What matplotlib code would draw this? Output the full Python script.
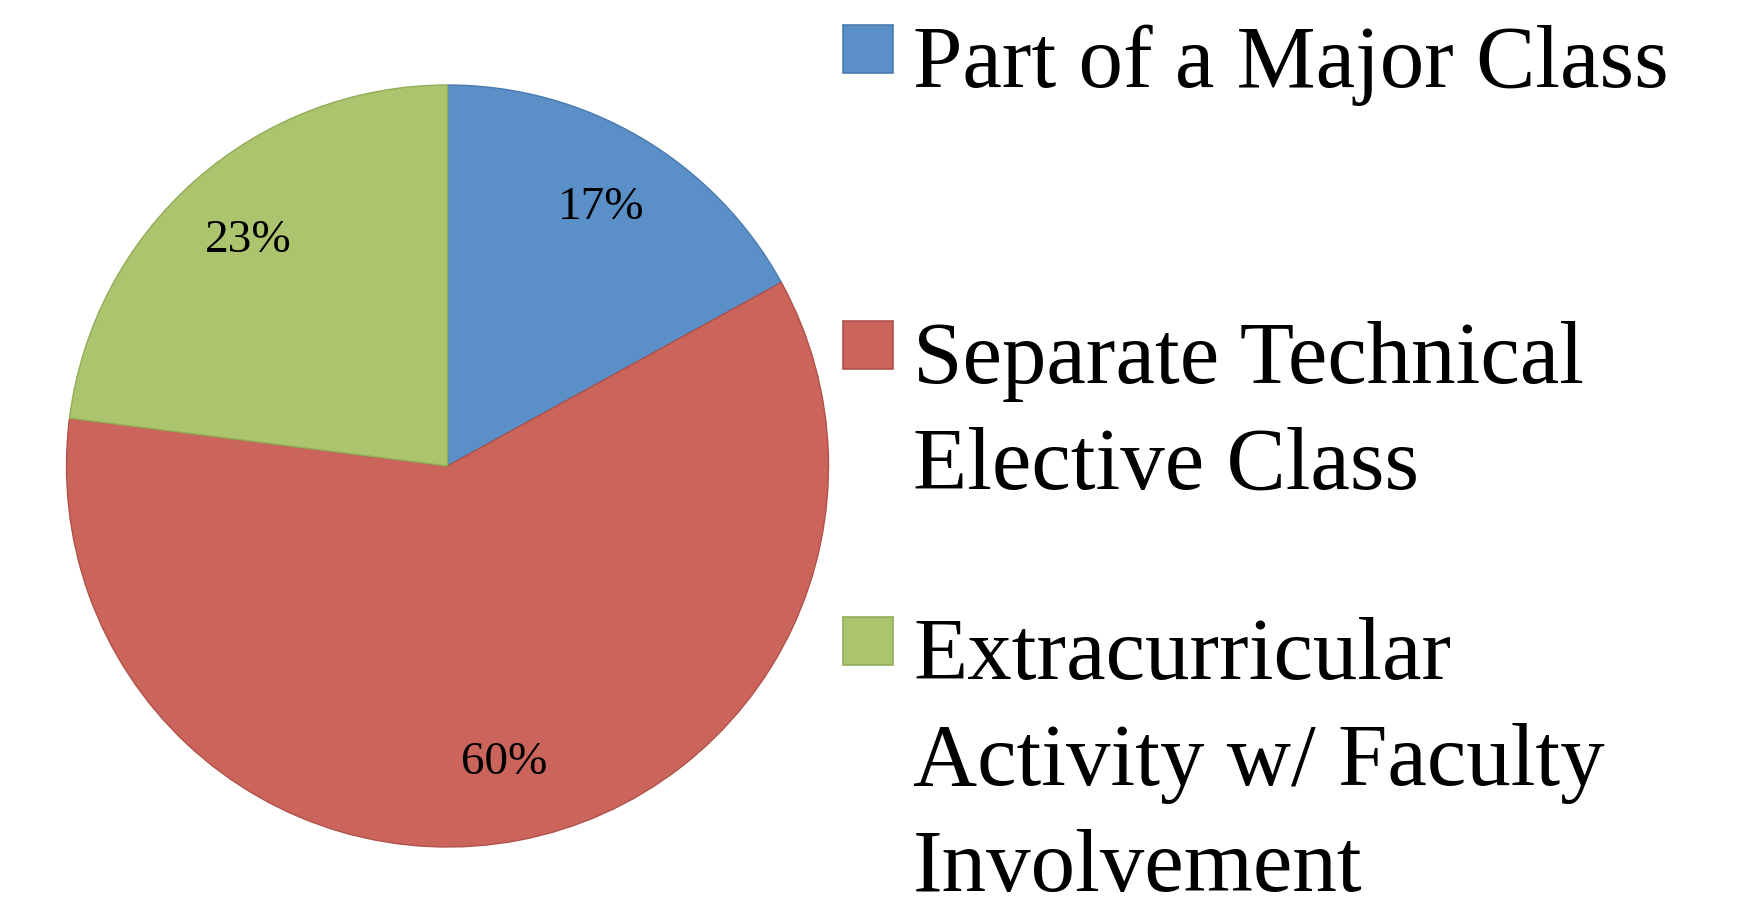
import matplotlib
matplotlib.use("Agg")
import matplotlib.pyplot as plt
from matplotlib.patches import Rectangle

# data
labels = ["Part of a Major Class",
          "Separate Technical\nElective Class",
          "Extracurricular\nActivity w/ Faculty\nInvolvement"]
shares = [17, 60, 23]
colors = ["#5B8FC7", "#CB655C", "#ADC46E"]
edges = ["#4A7AB0", "#B0524A", "#92AB57"]

plt.rcParams['font.family'] = ['Liberation Serif', 'DejaVu Serif']

W, H = 1743, 903
fig = plt.figure(figsize=(W / 100, H / 100), dpi=100)

# pie: centre (447, 467) px, radius 381 px
cx, cy, r = 447.5, 467, 381
ax = fig.add_axes([(cx - r) / W, 1 - (cy + r) / H, 2 * r / W, 2 * r / H])
wedges, texts, autotexts = ax.pie(shares, colors=colors, startangle=90,
                                  counterclock=False, autopct='%d%%',
                                  pctdistance=0.79, radius=1,
                                  wedgeprops=dict(linewidth=1.0),
                                  textprops=dict(fontsize=34, color='black'))
for w, e in zip(wedges, edges):
    w.set_edgecolor(e)
ax.set_xlim(-1.0, 1.0)
ax.set_ylim(-1.0, 1.0)
ax.set_aspect('equal')
ax.axis('off')

# legend drawn by hand so the square sits at the first line
baselines = [87, 383, 679]
line_gap = 106
for lab, col, e, bl in zip(labels, colors, edges, baselines):
    fig.patches.append(Rectangle((843 / W, 1 - (bl - 13) / H), 50 / W, 48 / H,
                                 transform=fig.transFigure, facecolor=col,
                                 edgecolor=e, linewidth=1.2))
    for i, line in enumerate(lab.split("\n")):
        fig.text(913 / W, 1 - (bl + i * line_gap) / H, line, fontsize=64,
                 va='baseline', ha='left')

fig.savefig("out.png", dpi=100)
